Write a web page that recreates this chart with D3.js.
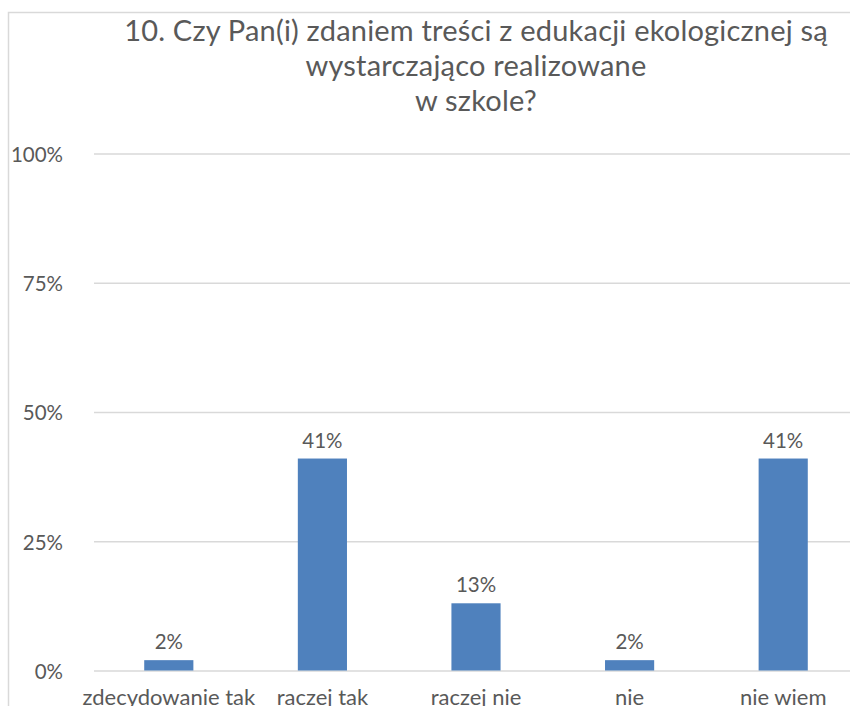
<!DOCTYPE html>
<html>
<head>
<meta charset="utf-8">
<script src="https://cdn.jsdelivr.net/npm/d3@7"></script>
<style>
  html, body { margin: 0; padding: 0; background: #fff; }
  svg { display: block; }
  text { font-family: Lato, "Open Sans", sans-serif; fill: #595959; }
</style>
</head>
<body>
<svg id="chart" width="850" height="706"></svg>
<script>
// Survey answers and their shares
const categories = ["zdecydowanie tak", "raczej tak", "raczej nie", "nie", "nie wiem"];
const values = [0.02, 0.41, 0.13, 0.02, 0.41];
const valueLabels = ["2%", "41%", "13%", "2%", "41%"];
const yTicks = [0, 0.25, 0.5, 0.75, 1];
const titleLines = [
  "10. Czy Pan(i) zdaniem treści z edukacji ekologicznej są",
  "wystarczająco realizowane",
  "w szkole?"
];

const svg = d3.select("#chart");
const FONT = "Lato, 'Open Sans', sans-serif";

// Chart frame (extends past the right and bottom edges)
svg.append("rect")
  .attr("x", 8.5).attr("y", 12.5)
  .attr("width", 900).attr("height", 800)
  .attr("fill", "none").attr("stroke", "#d9d9d9").attr("stroke-width", 1.5);

const plot = { left: 92, right: 860, top: 153.5, bottom: 670.5 };

const x = d3.scaleBand()
  .domain(categories)
  .range([plot.left, plot.right])
  .paddingInner(0.68)
  .paddingOuter(0.34);

const y = d3.scaleLinear()
  .domain([0, 1])
  .range([plot.bottom, plot.top]);

// Gridlines and y tick labels
const yAxis = d3.axisLeft(y)
  .tickValues(yTicks)
  .tickFormat(d3.format(".0%"))
  .tickSize(-(plot.right - plot.left - 2))
  .tickPadding(31);

const gy = svg.append("g")
  .attr("transform", `translate(${plot.left + 2},0)`)
  .call(yAxis);
gy.select(".domain").remove();
gy.selectAll(".tick line").attr("stroke", "#d9d9d9").attr("stroke-width", 1.5);
gy.selectAll(".tick text")
  .attr("font-size", 20.5)
  .attr("dy", "0.38em")
  .attr("fill", "#595959")
  .attr("font-family", FONT);

// Bars
svg.append("g").selectAll("rect")
  .data(values)
  .join("rect")
  .attr("x", (d, i) => x(categories[i]))
  .attr("width", x.bandwidth())
  .attr("y", d => y(d))
  .attr("height", d => y(0) - y(d))
  .attr("fill", "#4f81bd");

// Value labels above bars
svg.append("g").selectAll("text")
  .data(values)
  .join("text")
  .attr("x", (d, i) => x(categories[i]) + x.bandwidth() / 2)
  .attr("y", d => y(d) - 11)
  .attr("text-anchor", "middle")
  .attr("font-size", 20.5)
  .text((d, i) => valueLabels[i]);

// Category axis labels (baseline sits at the lower edge of the frame)
const xAxis = d3.axisBottom(x).tickSize(0).tickPadding(0);
const gx = svg.append("g")
  .attr("transform", `translate(0,${plot.bottom})`)
  .call(xAxis);
gx.select(".domain").remove();
gx.selectAll(".tick text")
  .attr("y", 34.5)
  .attr("dy", 0)
  .attr("font-size", 22)
  .attr("fill", "#595959")
  .attr("font-family", FONT);

// Title
svg.append("g").selectAll("text")
  .data(titleLines)
  .join("text")
  .attr("x", 476)
  .attr("y", (d, i) => 41 + i * 35)
  .attr("text-anchor", "middle")
  .attr("font-size", 29)
  .attr("letter-spacing", 0.2)
  .text(d => d);
</script>
</body>
</html>
